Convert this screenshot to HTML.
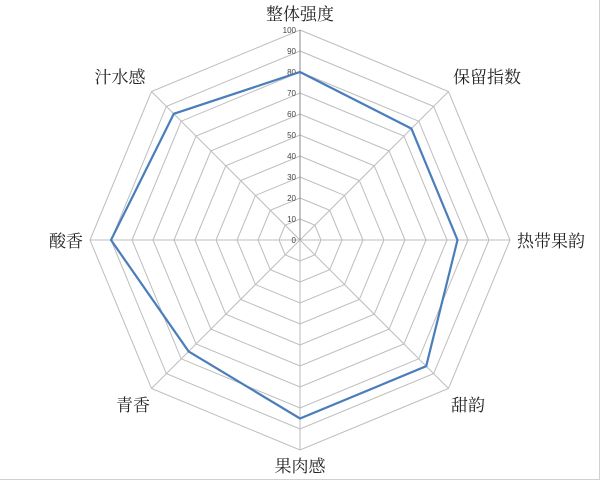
<!DOCTYPE html>
<html><head><meta charset="utf-8"><style>
html,body{margin:0;padding:0;background:#fff;}
svg{display:block;}
.lb{font-family:"Liberation Serif","Noto Serif CJK SC",serif;font-size:17px;fill:#222;}
.tk{font-family:"Liberation Sans",sans-serif;font-size:8px;fill:#444;text-anchor:end;}
</style></head><body>
<svg width="600" height="480" viewBox="0 0 600 480" xmlns="http://www.w3.org/2000/svg">
<defs>
<polygon id="oct" points="0,-1 .70711,-.70711 1,0 .70711,.70711 0,1 -.70711,.70711 -1,0 -.70711,-.70711" fill="none" stroke="#bdbdbd" stroke-width="1" vector-effect="non-scaling-stroke"/>
</defs>
<g transform="translate(300,240)">
<use href="#oct" transform="scale(21)"/>
<use href="#oct" transform="scale(42)"/>
<use href="#oct" transform="scale(63)"/>
<use href="#oct" transform="scale(84)"/>
<use href="#oct" transform="scale(105)"/>
<use href="#oct" transform="scale(126)"/>
<use href="#oct" transform="scale(147)"/>
<use href="#oct" transform="scale(168)"/>
<use href="#oct" transform="scale(189)"/>
<use href="#oct" transform="scale(210)"/>
<g stroke="#bdbdbd" stroke-width="1">
<line x1="0" y1="0" x2="0" y2="-210"/>
<line x1="0" y1="0" x2="148.5" y2="-148.5"/>
<line x1="0" y1="0" x2="210" y2="0"/>
<line x1="0" y1="0" x2="148.5" y2="148.5"/>
<line x1="0" y1="0" x2="0" y2="210"/>
<line x1="0" y1="0" x2="-148.5" y2="148.5"/>
<line x1="0" y1="0" x2="-210" y2="0"/>
<line x1="0" y1="0" x2="-148.5" y2="-148.5"/>
</g>
<line x1="0" y1="0" x2="0" y2="-210" stroke="#888" stroke-width="1"/>
</g>
<g class="tk">
<text x="296" y="243">0</text>
<text x="296" y="222">10</text>
<text x="296" y="201">20</text>
<text x="296" y="180">30</text>
<text x="296" y="159">40</text>
<text x="296" y="138">50</text>
<text x="296" y="117">60</text>
<text x="296" y="96">70</text>
<text x="296" y="75">80</text>
<text x="296" y="54">90</text>
<text x="296" y="33">100</text>
</g>
<polygon points="300,72 411.4,128.6 457.5,240 426.2,366.2 300,418.5 188.6,351.4 111,240 173.8,113.8" fill="none" stroke="#4a7ebb" stroke-width="2.2" stroke-linejoin="miter"/>
<g class="lb">
<text x="300" y="20" text-anchor="middle">整体强度</text>
<text x="487" y="83" text-anchor="middle">保留指数</text>
<text x="517" y="247">热带果韵</text>
<text x="468" y="411" text-anchor="middle">甜韵</text>
<text x="300" y="472" text-anchor="middle">果肉感</text>
<text x="133" y="411" text-anchor="middle">青香</text>
<text x="83" y="247" text-anchor="end">酸香</text>
<text x="120" y="83" text-anchor="middle">汁水感</text>
</g>
<line x1="599.5" y1="0" x2="599.5" y2="480" stroke="#d0d0d0" stroke-width="1"/>
<line x1="0" y1="479.5" x2="600" y2="479.5" stroke="#d0d0d0" stroke-width="1"/>
</svg>
</body></html>
